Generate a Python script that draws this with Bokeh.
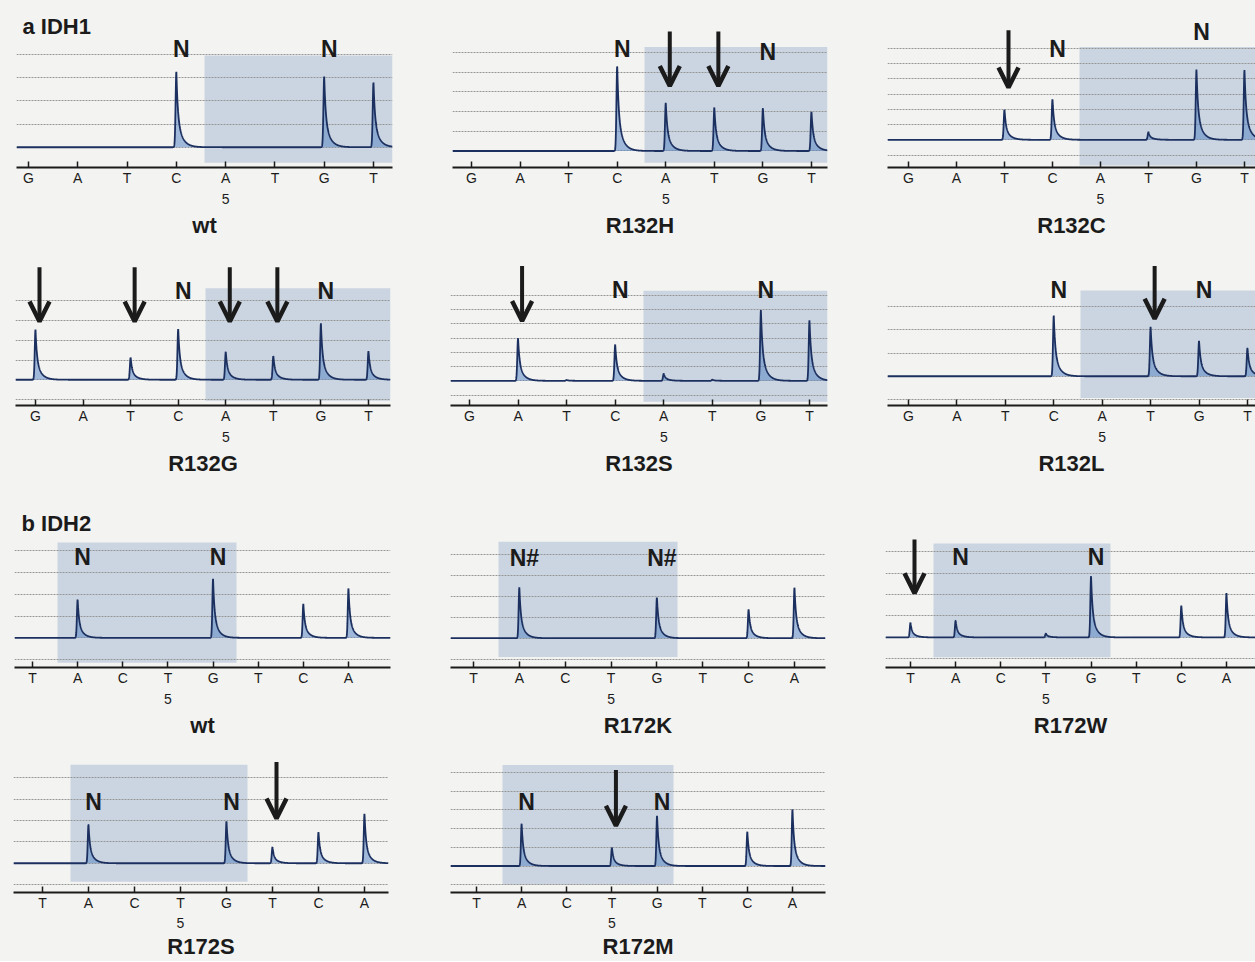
import numpy as np
from bokeh.plotting import figure
from bokeh.models import (Range1d, LinearAxis, FixedTicker, Grid, BoxAnnotation,
                          Arrow, OpenHead)
from bokeh.layouts import row, column
from bokeh.core.properties import value
from bokeh.embed import file_html
from bokeh.resources import INLINE

# ---------------- data ----------------
idh1_dispensation = ["G", "A", "T", "C", "A", "T", "G", "T"]
idh2_dispensation = ["T", "A", "C", "T", "G", "T", "C", "A"]

# peak heights, in grid-line units, one per dispensation
idh1_wt    = [0, 0, 0, 3.27, 0, 0, 3.06, 2.82]
idh1_r132h = [0, 0, 0, 4.34, 2.46, 2.21, 2.18, 2.00]
idh1_r132c = [0, 0, 1.99, 2.68, 0, 0.52, 4.63, 4.59]
idh1_r132g = [2.55, 0, 1.13, 2.58, 1.42, 1.21, 2.87, 1.45]
idh1_r132s = [0, 3.00, 0.06, 2.56, 0.51, 0.08, 5.00, 4.27]
idh1_r132l = [0, 0, 0, 2.62, 0, 2.14, 1.53, 1.22]
idh2_wt    = [0, 1.77, 0, 0, 2.72, 0, 1.56, 2.27]
idh2_r172k = [0, 2.43, 0, 0, 1.95, 0, 1.38, 2.43]
idh2_r172w = [0.69, 0.79, 0, 0.18, 2.88, 0, 1.49, 2.07]
idh2_r172s = [0, 1.83, 0, 0, 1.98, 0.76, 1.46, 2.33]
idh2_r172m = [0, 2.26, 0, 0.99, 2.70, 0, 1.83, 3.05]

panel_names = ["wt", "R132H", "R132C", "R132G", "R132S", "R132L",
               "wt", "R172K", "R172W", "R172S", "R172M"]
idh1_n_positions = [3, 6]
idh2_n_positions = [1, 4]
idh1_five_position = 4
idh2_five_position = 3
arrow_positions = {
    "R132H": [4, 5], "R132C": [2], "R132G": [0, 2, 4, 5], "R132S": [1],
    "R132L": [5], "R172W": [0], "R172S": [5], "R172M": [3],
}
section_titles = ["a IDH1", "b IDH2"]

# ---------------- styling ----------------
FONT = "Liberation Sans"
BG = "#f3f3f1"
SHADE = "#cbd5e1"
GRID = "#969696"
TRACE = "#1c3060"
FILL = "#5b87c5"
INK = "#1b1b1b"

# ---------------- layout geometry (page pixels) ----------------
COLS = [(0, 430), (430, 870), (870, 1255)]
ROWS = [(0, 240), (240, 478), (478, 740), (740, 961)]

GEOM = {
    "IDH1 wt": dict(X0=16, X1=392, t0=28, t7=373, Yb=152, s=24.0, Ya=173, ng=4,
                    shade=(204, 392, 57, 168), ny=[50, 50], arrow=None),
    "R132H": dict(X0=452, X1=827, t0=471, t7=811, Yb=155, s=20.3, Ya=172, ng=5,
                  shade=(644, 827, 48, 167), ny=[50, 53], arrow=(32, 88)),
    "R132C": dict(X0=887, X1=1255, t0=908, t7=1244, Yb=141, s=15.4, Ya=169, ng=6,
                  shade=(1079, 1255, 47, 167), ny=[49, 32], arrow=(30, 88)),
    "R132G": dict(X0=15, X1=390, t0=35, t7=368, Yb=386, s=20.7, Ya=413, ng=4,
                  shade=(205, 390, 290, 408), ny=[293, 293], arrow=(268, 325)),
    "R132S": dict(X0=450, X1=827, t0=469, t7=809, Yb=388, s=15.0, Ya=414, ng=6,
                  shade=(643, 827, 293, 410), ny=[292, 292], arrow=(267, 325)),
    "R132L": dict(X0=887, X1=1255, t0=908, t7=1247, Yb=384, s=24.6, Ya=415, ng=3,
                  shade=(1080, 1255, 293, 407), ny=[292, 292], arrow=(267, 323)),
    "IDH2 wt": dict(X0=14, X1=390, t0=32, t7=348, Yb=650, s=23.5, Ya=682, ng=4,
                    shade=(57, 236, 547, 677), ny=[563, 563], arrow=None),
    "R172K": dict(X0=450, X1=825, t0=473, t7=794, Yb=647, s=22.25, Ya=678, ng=4,
                  shade=(498, 677, 545, 667), ny=[562, 562], arrow=None),
    "R172W": dict(X0=885, X1=1255, t0=910, t7=1226, Yb=647, s=22.8, Ya=679, ng=4,
                  shade=(933, 1110, 547, 668), ny=[562, 562], arrow=(543, 600)),
    "R172S": dict(X0=13, X1=388, t0=42, t7=364, Yb=866, s=21.9, Ya=896, ng=4,
                  shade=(70, 247, 765, 885), ny=[803, 803], arrow=(762, 820)),
    "R172M": dict(X0=450, X1=825, t0=476, t7=792, Yb=868, s=19.1, Ya=895, ng=5,
                  shade=(502, 673, 765, 887), ny=[803, 803], arrow=(770, 827)),
}


def make_panel(key, name, disp, heights, n_pos, n_text, five_pos, col, rowb,
               header=None, five_standoff=5, label_standoff=6):
    g = GEOM[key]
    cl, cr = col
    rt, rb = rowb
    dx = (g["t7"] - g["t0"]) / 7.0

    def xd(X):
        return (X - g["t0"]) / dx

    def yd(Y):
        return (g["Yb"] - Y) / g["s"]

    x0, x1 = xd(g["X0"]), xd(g["X1"])
    p = figure(width=cr - cl, height=rb - rt,
               x_range=Range1d(x0, x1), y_range=Range1d(yd(g["Ya"]), yd(rt)),
               x_axis_type=None, y_axis_type=None,
               toolbar_location=None, output_backend="svg",
               min_border=0,
               min_border_left=g["X0"] - cl, min_border_right=cr - g["X1"],
               min_border_top=0, min_border_bottom=rb - g["Ya"],
               outline_line_color=None,
               background_fill_color=BG, border_fill_color=BG)

    # shaded analysis region
    L, R, T, B = g["shade"]
    p.add_layout(BoxAnnotation(left=xd(L), right=xd(R), top=yd(T), bottom=yd(B),
                               fill_color=SHADE, fill_alpha=1.0, line_color=None,
                               level="image"))
    # dotted horizontal grid
    p.add_layout(Grid(dimension=1, ticker=FixedTicker(ticks=list(range(-1, g["ng"] + 1))),
                      grid_line_color=GRID, grid_line_dash="2 1", grid_line_width=1.2))

    # trace
    xs = np.linspace(x0, x1, 2400)
    ys = np.zeros_like(xs)
    for i, h in enumerate(heights):
        if h <= 0:
            continue
        d = xs - i
        dp = np.clip(d, 0, None)
        rise = np.exp(-(d / 0.022) ** 2)
        decay = 0.55 * np.exp(-dp / 0.028) + 0.45 * np.exp(-dp / 0.10)
        ys += h * np.where(d < 0, rise, decay)
    p.varea(x=xs, y1=np.zeros_like(xs), y2=ys, fill_color=FILL, fill_alpha=0.55)
    p.line(xs, ys, line_color=TRACE, line_width=1.8)

    # N markers
    nx = [pos + 5.0 / dx for pos in n_pos]
    p.text(x=nx, y=[yd(v) for v in g["ny"]], text=[n_text] * len(n_pos),
           text_font=value(FONT), text_font_style="bold", text_font_size="23px",
           text_align="center", text_baseline="middle", text_color=INK)

    # arrows
    for a in arrow_positions.get(name, []):
        ax_ = a + 4.0 / dx
        top, bot = g["arrow"]
        p.add_layout(Arrow(x_start=ax_, y_start=yd(top), x_end=ax_, y_end=yd(bot),
                           line_width=4, line_color=INK,
                           end=OpenHead(size=20, line_width=4.5, line_color=INK)))

    if header is not None:
        hx, hy, ht = header
        p.text(x=[xd(hx)], y=[yd(hy)], text=[ht], text_font=value(FONT),
               text_font_style="bold", text_font_size="22px",
               text_align="left", text_baseline="middle", text_color=INK)

    # letter axis
    ax1 = LinearAxis(ticker=FixedTicker(ticks=list(range(8))),
                     major_label_overrides={i: l for i, l in enumerate(disp)},
                     major_tick_in=6, major_tick_out=0, major_label_standoff=2,
                     axis_line_width=2, axis_line_color=INK,
                     major_tick_line_width=1.5, major_tick_line_color=INK,
                     major_label_text_font=FONT, major_label_text_font_size="14px",
                     major_label_text_color=INK)
    p.add_layout(ax1, "below")
    # position "5" + sample name
    ax2 = LinearAxis(ticker=FixedTicker(ticks=[five_pos]),
                     major_label_overrides={five_pos: "5"},
                     axis_line_color=None, major_tick_line_color=None,
                     major_tick_in=0, major_tick_out=0,
                     major_label_standoff=five_standoff,
                     major_label_text_font=FONT, major_label_text_font_size="14px",
                     major_label_text_color=INK,
                     axis_label=name, axis_label_standoff=label_standoff,
                     axis_label_text_font=FONT, axis_label_text_font_size="22px",
                     axis_label_text_font_style="bold", axis_label_text_color=INK)
    p.add_layout(ax2, "below")
    return p


r1 = row(
    make_panel("IDH1 wt", "wt", idh1_dispensation, idh1_wt, idh1_n_positions, "N",
               idh1_five_position, COLS[0], ROWS[0], header=(22, 27, section_titles[0])),
    make_panel("R132H", "R132H", idh1_dispensation, idh1_r132h, idh1_n_positions, "N",
               idh1_five_position, COLS[1], ROWS[0]),
    make_panel("R132C", "R132C", idh1_dispensation, idh1_r132c, idh1_n_positions, "N",
               idh1_five_position, COLS[2], ROWS[0]),
)
r2 = row(
    make_panel("R132G", "R132G", idh1_dispensation, idh1_r132g, idh1_n_positions, "N",
               idh1_five_position, COLS[0], ROWS[1]),
    make_panel("R132S", "R132S", idh1_dispensation, idh1_r132s, idh1_n_positions, "N",
               idh1_five_position, COLS[1], ROWS[1]),
    make_panel("R132L", "R132L", idh1_dispensation, idh1_r132l, idh1_n_positions, "N",
               idh1_five_position, COLS[2], ROWS[1]),
)
r3 = row(
    make_panel("IDH2 wt", "wt", idh2_dispensation, idh2_wt, idh2_n_positions, "N",
               idh2_five_position, COLS[0], ROWS[2], header=(21, 527, section_titles[1])),
    make_panel("R172K", "R172K", idh2_dispensation, idh2_r172k, idh2_n_positions, "N#",
               idh2_five_position, COLS[1], ROWS[2]),
    make_panel("R172W", "R172W", idh2_dispensation, idh2_r172w, idh2_n_positions, "N",
               idh2_five_position, COLS[2], ROWS[2]),
)
r4 = row(
    make_panel("R172S", "R172S", idh2_dispensation, idh2_r172s, idh2_n_positions, "N",
               idh2_five_position, COLS[0], ROWS[3], five_standoff=4, label_standoff=3),
    make_panel("R172M", "R172M", idh2_dispensation, idh2_r172m, idh2_n_positions, "N",
               idh2_five_position, COLS[1], ROWS[3], five_standoff=4, label_standoff=3),
)

layout = column(r1, r2, r3, r4, styles={"background-color": BG})
open("out.html", "w").write(file_html(layout, INLINE, "IDH1 / IDH2 pyrograms"))
